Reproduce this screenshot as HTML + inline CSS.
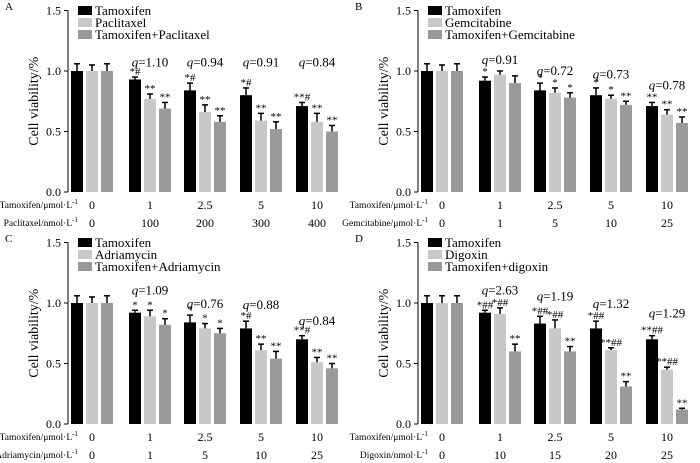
<!DOCTYPE html>
<html><head><meta charset="utf-8"><style>
html,body{margin:0;padding:0;background:#fff;}
svg{display:block;font-family:"Liberation Serif",serif;}
</style></head><body>
<svg id="chart" width="700" height="463" viewBox="0 0 700 463" xmlns="http://www.w3.org/2000/svg"></svg>
<script>
const seriesA1=[1,0.93,0.84,0.80,0.71], seriesA2=[1,0.77,0.66,0.59,0.58], seriesA3=[1,0.69,0.58,0.52,0.50];
const seriesB1=[1,0.92,0.84,0.80,0.71], seriesB2=[1,0.97,0.82,0.77,0.64], seriesB3=[1,0.90,0.78,0.72,0.57];
const seriesC1=[1,0.92,0.84,0.79,0.70], seriesC2=[1,0.89,0.79,0.61,0.51], seriesC3=[1,0.82,0.75,0.54,0.46];
const seriesD1=[1,0.92,0.83,0.79,0.70], seriesD2=[1,0.91,0.79,0.61,0.45], seriesD3=[1,0.60,0.60,0.31,0.12];
const errA=[[0.06,0.02,0.06,0.06,0.03],[0.05,0.04,0.06,0.06,0.07],[0.06,0.05,0.05,0.06,0.05]];
const errB=[[0.06,0.03,0.06,0.06,0.03],[0.05,0.03,0.04,0.03,0.04],[0.06,0.06,0.04,0.03,0.05]];
const errC=[[0.06,0.02,0.06,0.06,0.03],[0.05,0.05,0.04,0.05,0.04],[0.06,0.05,0.04,0.06,0.04]];
const errD=[[0.06,0.02,0.06,0.06,0.03],[0.06,0.05,0.07,0.02,0.02],[0.06,0.06,0.04,0.04,0.01]];
const qA=["","q=1.10","q=0.94","q=0.91","q=0.84"], qAy=[0,1.08,1.08,1.08,1.08];
const qB=["","q=0.91","q=0.72","q=0.73","q=0.78"], qBy=[0,1.10,1.01,0.98,0.89];
const qC=["","q=1.09","q=0.76","q=0.88","q=0.84"], qCy=[0,1.11,1.00,0.99,0.86];
const qD=["","q=2.63","q=1.19","q=1.32","q=1.29"], qDy=[0,1.11,1.06,1.00,0.92];
const starsA=[["","",""],["*#","**","**"],["*#","**","**"],["*#","**","**"],["**#","**","**"]];
const starsB=[["","",""],["*","",""],["*","*","*"],["*","*","**"],["**","**","**"]];
const starsC=[["","",""],["*","*","*"],["*","*","*"],["*#","**","**"],["**#","**","**"]];
const starsD=[["","",""],["*##","*##","**"],["*##","*##","**"],["*##","**##","**"],["**##","**##","**"]];
const tamTicks=["0","1","2.5","5","10"];
const row2A=["0","100","200","300","400"], row2B=["0","1","5","10","25"], row2C=["0","1","5","10","25"], row2D=["0","10","15","20","25"];
const yTicks=[0,0.5,1.0,1.5];
const panels=[
 {id:"a",letter:"A",ox:0,oy:0,s:[seriesA1,seriesA2,seriesA3],e:errA,q:qA,qy:qAy,st:starsA,names:["Tamoxifen","Paclitaxel","Tamoxifen+Paclitaxel"],r2n:"Paclitaxel/nmol·L",r2:row2A},
 {id:"b",letter:"B",ox:350,oy:0,s:[seriesB1,seriesB2,seriesB3],e:errB,q:qB,qy:qBy,st:starsB,names:["Tamoxifen","Gemcitabine","Tamoxifen+Gemcitabine"],r2n:"Gemcitabine/μmol·L",r2:row2B},
 {id:"c",letter:"C",ox:0,oy:232,s:[seriesC1,seriesC2,seriesC3],e:errC,q:qC,qy:qCy,st:starsC,names:["Tamoxifen","Adriamycin","Tamoxifen+Adriamycin"],r2n:"Adriamycin/μmol·L",r2:row2C},
 {id:"d",letter:"D",ox:350,oy:232,s:[seriesD1,seriesD2,seriesD3],e:errD,q:qD,qy:qDy,st:starsD,names:["Tamoxifen","Digoxin","Tamoxifen+digoxin"],r2n:"Digoxin/nmol·L",r2:row2D}
];
const colors=["#000","#c8c8c8","#9a9a9a"];
const NS="http://www.w3.org/2000/svg";
const svg=document.getElementById("chart");
function mk(tag,attrs,parent,text){const el=document.createElementNS(NS,tag);for(const k in attrs)el.setAttribute(k,attrs[k]);if(text!==undefined)el.textContent=text;parent.appendChild(el);return el;}
const centers=[92,150,205,261,317];
panels.forEach(p=>{
 const g=mk("g",{transform:`translate(${p.ox},${p.oy})`},svg);
 
 
 const y=v=>192-v*121;
 const x=(gi,si)=>centers[gi]-21+si*15;
 const lt=mk("text",{x:5,y:10,"font-size":11},g,p.letter);
 
 
 const ax=mk("line",{x1:68,y1:y(1.5),x2:68,y2:y(0),stroke:"#000","stroke-width":1},g);
 
 
 yTicks.forEach(t=>{
  mk("line",{x1:64,x2:68,y1:y(t),y2:y(t),stroke:"#000"},g);
  const tl=mk("text",{x:61,y:y(t)+4,"font-size":12,"text-anchor":"end"},g,t.toFixed(1));
  
  
 });
 const yt=mk("text",{x:0,y:0,"font-size":14,"text-anchor":"middle",transform:`translate(38,${y(0.75)}) rotate(-90)`},g,"Cell viability/%");
 
 
 p.s.forEach((ser,si)=>{
  ser.forEach((v,gi)=>{
   const bx=x(gi,si);
   const r=mk("rect",{x:bx,y:y(v),width:12,height:y(0)-y(v),fill:colors[si]},g);
   
   
   const top=y(v+p.e[si][gi]);
   mk("line",{x1:bx+6,x2:bx+6,y1:y(v),y2:top,stroke:"#000","stroke-width":1.5},g);
   mk("line",{x1:bx+3,x2:bx+9,y1:top,y2:top,stroke:"#000","stroke-width":1.5},g);
   const st=p.st[gi][si];
   if(st){const a=mk("text",{x:bx+6,y:top-2,"font-size":11,"text-anchor":"middle"},g,st);
    
    }
  });
 });
 p.q.forEach((q,gi)=>{ if(!q)return;
  const t=mk("text",{x:centers[gi],y:y(p.qy[gi])+5,"font-size":13,"text-anchor":"middle"},g);
  
  
  mk("tspan",{"font-style":"italic"},t,"q");
  mk("tspan",{},t,q.slice(1));
 });
 p.names.forEach((n,i)=>{
  const ly=6+i*12;
  const sw=mk("rect",{x:78,y:ly,width:14,height:9,fill:colors[i]},g);
  
  
  const lt2=mk("text",{x:95,y:ly+9,"font-size":13},g,n);
  
  
 });
 const r1=mk("text",{x:78,y:208,"font-size":9.5,"text-anchor":"end"},g);
 
 
 mk("tspan",{},r1,"Tamoxifen/μmol·L");mk("tspan",{"font-size":7,dy:-4},r1,"-1");
 const r2=mk("text",{x:78,y:226,"font-size":9.5,"text-anchor":"end"},g);
 
 
 mk("tspan",{},r2,p.r2n);mk("tspan",{"font-size":7,dy:-4},r2,"-1");
 tamTicks.forEach((t,gi)=>{
  const a=mk("text",{x:centers[gi],y:209,"font-size":12,"text-anchor":"middle"},g,t);
  
  
  const b=mk("text",{x:centers[gi],y:227,"font-size":12,"text-anchor":"middle"},g,p.r2[gi]);
  
  
 });
});
</script>
</body></html>
